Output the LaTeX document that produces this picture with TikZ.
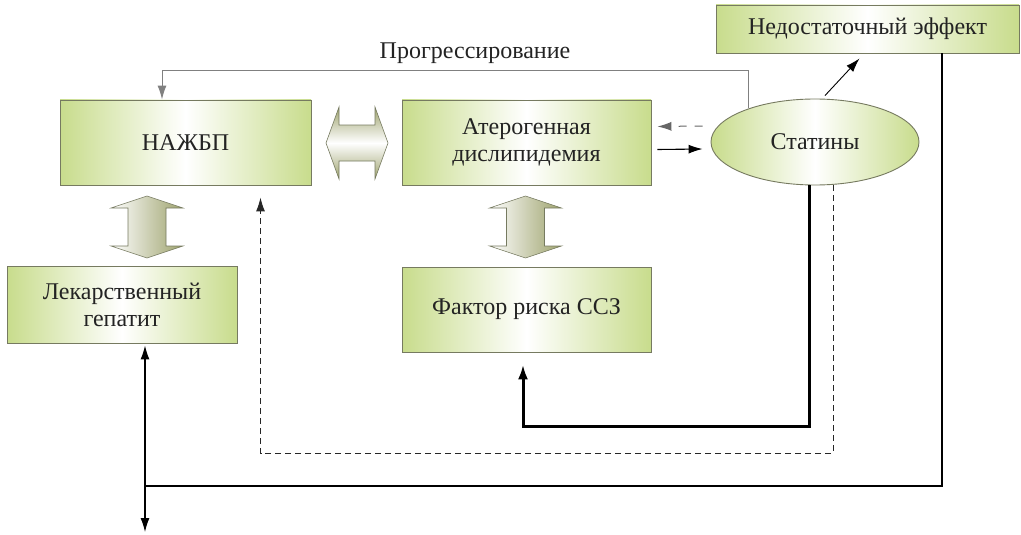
\documentclass[tikz,border=0pt]{standalone}
\usepackage{fontspec}
\setmainfont{Liberation Serif}
\usetikzlibrary{arrows.meta, shapes.geometric}
\definecolor{boxgreen}{RGB}{200,220,140}
\definecolor{boxline}{RGB}{118,122,96}
\definecolor{arrowolive}{RGB}{158,163,110}
\definecolor{textgray}{RGB}{35,35,35}

\begin{document}
\begin{tikzpicture}[x=1pt, y=-1pt,
    >={Latex[length=14pt,width=9pt]},   % Pfeilspitzen
    box/.style={draw=boxline, line width=0.9pt, left color=boxgreen, right color=boxgreen, middle color=white,
                inner sep=0pt, align=center, text=textgray},
    bigarrow/.style={draw=boxline, line width=0.6pt},
    thinline/.style={line width=1.1pt, black},
    dashline/.style={line width=1pt, black!85, dash pattern=on 6pt off 4pt},
    font=\fontsize{24}{27}\selectfont]
    % Bildbereich
    \useasboundingbox (0,0) rectangle (1021,535);
    % Kaesten
    \node[box, minimum width=251pt, minimum height=85pt] (nazhbp) at (185.5,142.5) {НАЖБП};
    \node[box, minimum width=249pt, minimum height=85pt] (ather) at (526.5,142.5) {Атерогенная\\дислипидемия};
    \node[box, ellipse, minimum width=208pt, minimum height=86pt] (stat) at (815,142) {Статины};
    \node[box, minimum width=303pt, minimum height=48pt] (nedost) at (867.5,29) {Недостаточный эффект};
    \node[box, minimum width=230pt, minimum height=77pt] (gepatit) at (122,304.5) {Лекарственный\\гепатит};
    \node[box, minimum width=249pt, minimum height=85pt] (factor) at (526.5,309.5) {Фактор риска ССЗ};
    % Blockpfeile
    \draw[bigarrow, top color=arrowolive, bottom color=arrowolive, middle color=white]
        (326,143) -- (339,107) -- (339,125) -- (375,125) -- (375,107) -- (388,143)
        -- (375,179) -- (375,161) -- (339,161) -- (339,179) -- cycle;
    \draw[bigarrow, left color=white, right color=arrowolive]
        (147,196) -- (183,208) -- (166,208) -- (166,246) -- (183,246) -- (147,258)
        -- (111,246) -- (128,246) -- (128,208) -- (111,208) -- cycle;
    \draw[bigarrow, left color=white, right color=arrowolive]
        (525.5,196) -- (561.5,208) -- (544.5,208) -- (544.5,246) -- (561.5,246) -- (525.5,258)
        -- (489.5,246) -- (506.5,246) -- (506.5,208) -- (489.5,208) -- cycle;
    % Verbindungen
    \node[text=textgray] (progr) at (475,53) {Прогрессирование};
    \draw[->, line width=1pt, black!50] (stat.153) -- ++(0,-38) -| ([xshift=-23.5pt]nazhbp.north);
    \draw[->, line width=1pt, black!60, dash pattern=on 8pt off 8pt]
        ([xshift=-8pt,yshift=16pt]stat.west) -- ([xshift=6pt,yshift=16pt]ather.east);
    \draw[->, thinline] ([xshift=6pt,yshift=-7pt]ather.east) -- ([xshift=-8pt,yshift=-7pt]stat.west);
    \draw[->, line width=0.9pt] ([xshift=10pt,yshift=3pt]stat.north) -- ([xshift=-8pt,yshift=-5pt]nedost.south);
    \draw[->, dashline] ([xshift=18pt]stat.south) -- ++(0,268) -| ([xshift=75pt,yshift=-12pt]nazhbp.south);
    \draw[-{Latex[length=15pt,width=10pt]}, line width=3pt] ([xshift=-6pt]stat.south) -- ++(0,241)
        -| ([xshift=-3.5pt,yshift=-12pt]factor.south);
    % Leberpfad
    \coordinate (lo) at (145,532);
    \coordinate (join) at (145,486);
    \draw[<->, thinline] ([xshift=23pt,yshift=-2pt]gepatit.south) -- (lo);
    \draw[thinline] ([xshift=74.5pt]nedost.south) |- (join);
\end{tikzpicture}
\end{document}
